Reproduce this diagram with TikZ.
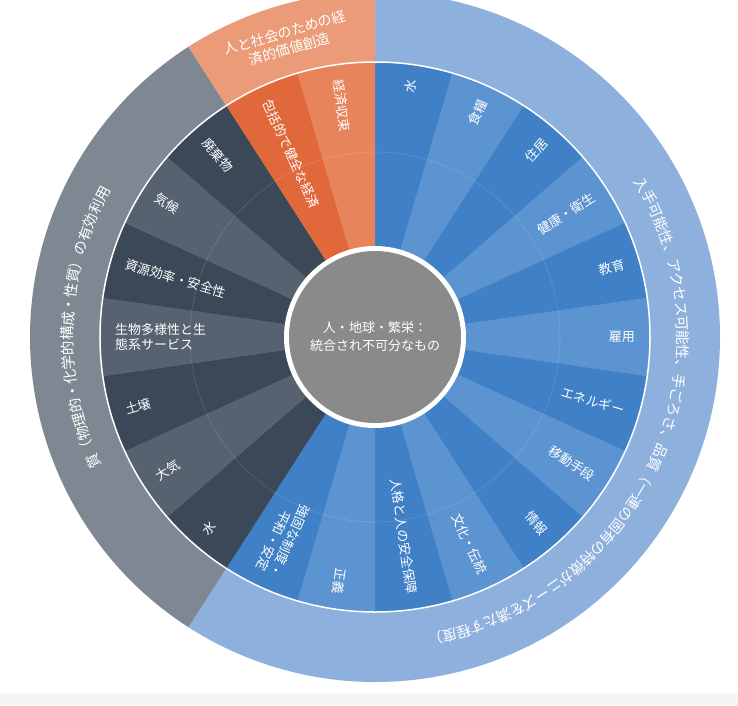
\documentclass[tikz,border=0pt]{standalone}
\usepackage{fontspec}
\setmainfont{Noto Sans CJK JP}
\usetikzlibrary{decorations.text}
\definecolor{bluedark}{HTML}{3F80C6}
\definecolor{bluelight}{HTML}{5C94D1}
\definecolor{blueouter}{HTML}{8EB0DD}
\definecolor{graydark}{HTML}{3A4858}
\definecolor{graylight}{HTML}{56626F}
\definecolor{grayouter}{HTML}{7F8892}
\definecolor{orangedark}{HTML}{E1683A}
\definecolor{orangelight}{HTML}{E8845C}
\definecolor{orangeouter}{HTML}{EC9B79}
\definecolor{coregray}{HTML}{8A8A8A}
\tikzset{
  sectorlabel/.style={text=white, font=\fontsize{13}{15}\selectfont, inner sep=0pt},
  ringtext/.style={decorate, decoration={text along path, text color=white, text align=center}}
}

\begin{document}
\begin{tikzpicture}[x=1pt,y=1pt]
            \useasboundingbox (-375,-368) rectangle (363,337);
            \clip (-375,-368) rectangle (363,337);
            \fill[gray!8] (-375,-368) rectangle (363,-356);

            % outer ring
            \fill[blueouter] (0,0) -- (90:345) arc[start angle=90, end angle=-122.73, radius=345] -- cycle;
            \fill[grayouter] (0,0) -- (-122.73:345) arc[start angle=-122.73, end angle=-237.27, radius=345] -- cycle;
            \fill[orangeouter] (0,0) -- (122.73:345) arc[start angle=122.73, end angle=90, radius=345] -- cycle;

            % inner sectors
            \foreach \i in {0,...,21} {
              \pgfmathsetmacro\a{90-\i*16.3636}
              \pgfmathsetmacro\b{90-(\i+1)*16.3636}
              \pgfmathtruncatemacro\odd{mod(\i,2)}
              \ifnum\i<13
                \ifnum\odd=0 \def\col{bluedark}\else\def\col{bluelight}\fi
              \else\ifnum\i<20
                \ifnum\odd=0 \def\col{graylight}\else\def\col{graydark}\fi
              \else
                \ifnum\odd=0 \def\col{orangedark}\else\def\col{orangelight}\fi
              \fi\fi
              \fill[\col] (0,0) -- (\a:275) arc[start angle=\a, end angle=\b, radius=275] -- cycle;
            }
            \draw[white, line width=1.5pt] (0,0) circle[radius=275];
            \draw[white, opacity=0.15, line width=0.6pt] (0,0) circle[radius=185];

            % blue labels
            \foreach \txt [count=\i from 0] in {水,食糧,住居,健康・衛生,教育,雇用,エネルギー,移動手段,情報,文化・伝統,人格と人の安全保障,正義,{強固な制度・\\平和・安定}} {
              \pgfmathsetmacro\m{90-(\i+0.5)*16.3636}
              \node[sectorlabel, align=right, anchor=east, rotate=\m] (need\i) at (\m:260) {\txt};
            }
            % gray labels
            \foreach \txt [count=\i from 0] in {水,大気,土壌,{生物多様性と生\\態系サービス},資源効率・安全性,気候,廃棄物} {
              \pgfmathsetmacro\m{-122.73-(\i+0.5)*16.3636}
              \node[sectorlabel, align=left, anchor=west, rotate=\m+180] (res\i) at (\m:260) {\txt};
            }
            % orange labels
            \node[sectorlabel, anchor=west, rotate=-65.5] (econ0) at (114.55:260) {包括的で健全な経済};
            \node[sectorlabel, anchor=west, rotate=-81.8] (econ1) at (98.18:260) {経済収束};

            % center
            \fill[white] (0,0) circle[radius=91];
            \node[circle, fill=coregray, minimum size=172pt, inner sep=0pt] (core) at (0,0) {};
            \node[text=white, align=center, font=\fontsize{13}{18}\selectfont] (coretxt) at (0,0) {人・地球・繁栄：\\統合され不可分なもの};

            % outer ring texts
            \path[ringtext, decoration={raise=-5pt, text={|\fontsize{14.5}{15}\selectfont|入手可能性、アクセス可能性、手ごろさ、品質（一連の固有の特徴がニーズを満たす程度）}}]
              (37:307) arc[start angle=37, end angle=-86, radius=307];
            \path[ringtext, decoration={raise=-5pt, text={|\fontsize{14.5}{15}\selectfont|質（物理的・化学的構成・性質）の有効利用}}]
              (206:307) arc[start angle=206, end angle=150, radius=307];
            \node[text=white, align=center, rotate=16, font=\fontsize{14}{17}\selectfont] (econtitle) at (106.5:309) {人と社会のための経\\済的価値創造};
            \end{tikzpicture}
\end{document}
